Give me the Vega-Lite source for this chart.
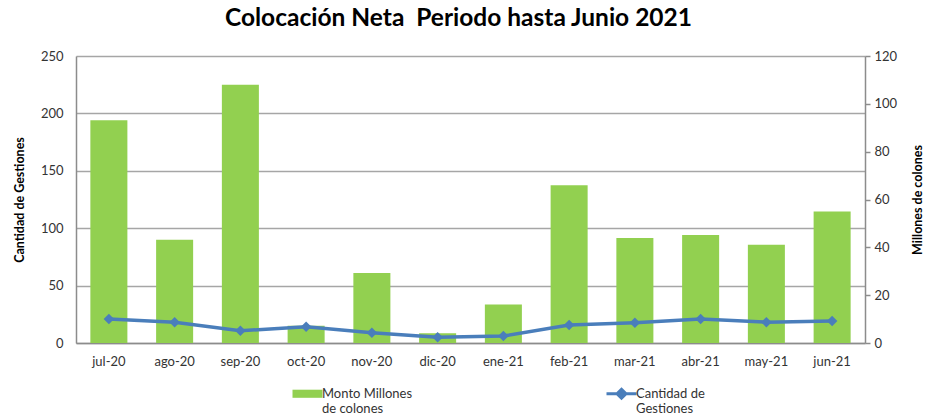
{
  "$schema": "https://vega.github.io/schema/vega-lite/v6.json",
  "width": 789,
  "height": 287,
  "autosize": {"type": "none"},
  "padding": {"left": 76, "top": 56, "right": 60, "bottom": 75},
  "background": "white",
  "config": {
    "view": {"stroke": null},
    "font": "Lato",
    "axis": {"labelFont": "Lato", "titleFont": "Lato", "labelFontSize": 13, "labelColor": "#333333", "domainColor": "#8c8c8c", "tickColor": "#8c8c8c", "gridColor": "#a6a6a6", "domainWidth": 1.5}
  },
  "title": {"text": "Colocación Neta\u00a0 Periodo hasta Junio 2021", "font": "Lato", "fontSize": 24.5, "fontWeight": "bold", "color": "#000000", "anchor": "middle", "offset": 19, "dx": -12},
  "data": {
    "values": [
      {"mes": "jul-20", "monto": 194, "gestiones": 10.0},
      {"mes": "ago-20", "monto": 90, "gestiones": 8.7},
      {"mes": "sep-20", "monto": 225, "gestiones": 5.1},
      {"mes": "oct-20", "monto": 15, "gestiones": 6.8},
      {"mes": "nov-20", "monto": 61, "gestiones": 4.3},
      {"mes": "dic-20", "monto": 8.5, "gestiones": 2.4},
      {"mes": "ene-21", "monto": 33.5, "gestiones": 2.9},
      {"mes": "feb-21", "monto": 137.5, "gestiones": 7.5},
      {"mes": "mar-21", "monto": 91.5, "gestiones": 8.5},
      {"mes": "abr-21", "monto": 94, "gestiones": 10.0},
      {"mes": "may-21", "monto": 85.5, "gestiones": 8.7},
      {"mes": "jun-21", "monto": 114.5, "gestiones": 9.2}
    ]
  },
  "encoding": {
    "x": {
      "field": "mes", "type": "nominal", "sort": null,
      "scale": {"paddingInner": 0.437, "paddingOuter": 0.2185},
      "axis": {"title": null, "labelAngle": 0, "ticks": false, "labelPadding": 12, "grid": false}
    }
  },
  "layer": [
    {
      "mark": {"type": "bar"},
      "encoding": {
        "y": {
          "field": "monto", "type": "quantitative",
          "scale": {"domain": [0, 250]},
          "axis": {"title": "Cantidad de Gestiones", "values": [0, 50, 100, 150, 200, 250], "ticks": false, "labelPadding": 13, "grid": true, "gridWidth": 1.5, "titleFontSize": 12.5, "titleFontWeight": "bold", "titleColor": "#000000", "titlePadding": 14}
        },
        "color": {
          "datum": "Monto Millones de colones", "type": "nominal",
          "scale": {"domain": ["Monto Millones de colones", "Cantidad de Gestiones"], "range": ["#92D050", "#4A7EBB"]},
          "legend": {
            "title": null, "orient": "none", "legendX": 225, "legendY": 331, "direction": "horizontal",
            "symbolSize": 900, "columnPadding": 187, "labelOffset": 8,
            "labelFontSize": 13, "labelFont": "Lato", "labelColor": "#333333", "labelBaseline": "middle", "labelLimit": 300,
            "labelExpr": "datum.value == 'Monto Millones de colones' ? ['Monto Millones', ' de colones'] : ['Cantidad de', 'Gestiones']",
            "encode": {
              "symbols": {
                "update": {
                  "shape": {"signal": "datum.value == 'Cantidad de Gestiones' ? 'M-1,0H1M0,-0.3L0.3,0L0,0.3L-0.3,0Z' : 'M-1,-0.27H1V0.27H-1Z'"},
                  "fill": {"signal": "datum.value == 'Cantidad de Gestiones' ? '#4A7EBB' : '#92D050'"},
                  "stroke": {"signal": "datum.value == 'Cantidad de Gestiones' ? '#4A7EBB' : '#92D050'"},
                  "strokeWidth": {"signal": "datum.value == 'Cantidad de Gestiones' ? 3 : 0"},
                  "opacity": {"value": 1}
                }
              }
            }
          }
        }
      }
    },
    {
      "mark": {"type": "line", "strokeWidth": 3.5, "point": {"shape": "diamond", "size": 110, "filled": true, "opacity": 1}},
      "encoding": {
        "y": {
          "field": "gestiones", "type": "quantitative",
          "scale": {"domain": [0, 120]},
          "axis": {"orient": "right", "title": "Millones de colones", "values": [0, 20, 40, 60, 80, 100, 120], "grid": false, "ticks": true, "tickSize": 5, "tickWidth": 1.5, "labelPadding": 4, "titleAngle": -90, "titleBaseline": "top", "titleFontSize": 12.5, "titleFontWeight": "bold", "titleColor": "#000000", "titlePadding": 15}
        },
        "color": {"datum": "Cantidad de Gestiones", "type": "nominal"}
      }
    }
  ],
  "resolve": {"scale": {"y": "independent"}}
}
